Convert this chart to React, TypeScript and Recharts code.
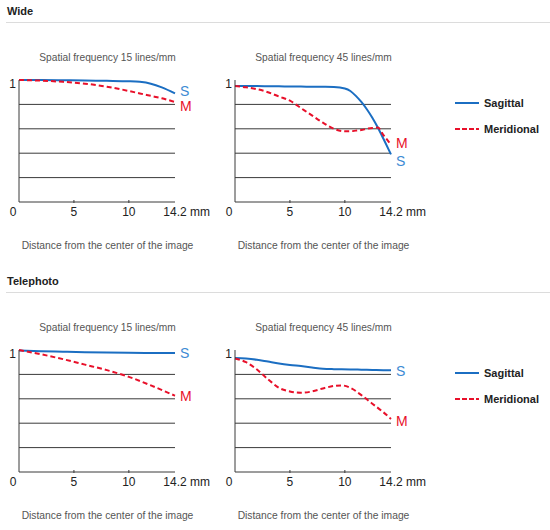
import { LineChart, Line, XAxis, YAxis, ReferenceLine } from 'recharts';

// distance from image centre (mm) and contrast values
const DIST_TICKS = [0, 5, 10, 14.2];
const GRID_LEVELS = [0.2, 0.4, 0.6, 0.8];
const TOP_TICK = [1];

const wide15Dist = [0, 2, 4, 6, 8, 10, 11, 12, 13, 14.2];
const wide15Sag = [1.0, 1.0, 0.998, 0.995, 0.993, 0.99, 0.985, 0.97, 0.94, 0.89];
const wide15Mer = [1.0, 0.995, 0.985, 0.97, 0.945, 0.91, 0.89, 0.87, 0.85, 0.82];

const wide45Dist = [0, 1, 2, 3, 4, 5, 6, 7, 8, 9, 10, 10.5, 11, 11.5, 12, 12.5, 13, 13.5, 14.2];
const wide45Sag = [0.95, 0.95, 0.95, 0.949, 0.948, 0.947, 0.946, 0.945, 0.944, 0.942, 0.93, 0.91, 0.87, 0.82, 0.76, 0.69, 0.61, 0.52, 0.39];
const wide45Mer = [0.95, 0.94, 0.925, 0.9, 0.865, 0.83, 0.77, 0.71, 0.65, 0.6, 0.58, 0.58, 0.585, 0.59, 0.6, 0.607, 0.61, 0.55, 0.47];

const tele15Dist = [0, 2, 4, 6, 8, 10, 12, 14.2];
const tele15Sag = [0.995, 0.99, 0.986, 0.982, 0.979, 0.977, 0.976, 0.975];
const tele15Mer = [1.0, 0.965, 0.925, 0.88, 0.835, 0.78, 0.71, 0.625];

const tele45Dist = [0, 1, 2, 3, 4, 5, 6, 7, 8, 9, 9.7, 10.5, 11.5, 12.5, 13.5, 14.2];
const tele45Sag = [0.935, 0.93, 0.92, 0.905, 0.89, 0.878, 0.868, 0.857, 0.846, 0.843, 0.842, 0.841, 0.839, 0.837, 0.835, 0.834];
const tele45Mer = [0.93, 0.9, 0.84, 0.76, 0.69, 0.66, 0.65, 0.66, 0.685, 0.705, 0.71, 0.69, 0.63, 0.56, 0.49, 0.435];

const SAG_COLOR = '#1b6ec2';
const SAG_TEXT = '#3d8bd4';
const MER_COLOR = '#e8102a';
const AXIS_COLOR = '#3a3a3a';
const FONT = 'Arial, "Liberation Sans", sans-serif';

function DistTick(props: any) {
  const { x, y, index, payload } = props;
  const last = index === DIST_TICKS.length - 1;
  const first = index === 0;
  return (
    <g>
      {!first && !last && <line x1={x} x2={x} y1={y - 2} y2={y + 1} stroke={AXIS_COLOR} />}
      <text x={first ? x - 6 : x} y={y + 14} textAnchor="middle" fontSize={12} fill="#222" fontFamily={FONT}>
        {payload.value}
      </text>
      {last && (
        <text x={x + 15} y={y + 14} textAnchor="start" fontSize={12} fill="#222" fontFamily={FONT}>
          mm
        </text>
      )}
    </g>
  );
}

function TopTick(props: any) {
  const { x, y, payload } = props;
  return (
    <text x={x - 6.5} y={y + 8} textAnchor="middle" fontSize={12} fill="#222" fontFamily={FONT}>
      {payload.value}
    </text>
  );
}

function endLabel(text: string, color: string, count: number, dy: number) {
  return (p: any) =>
    p.index === count - 1 ? (
      <text key={text} x={p.x + 5} y={p.y + dy} fontSize={14} fill={color} fontFamily={FONT}>
        {text}
      </text>
    ) : null;
}

interface MtfChartProps {
  title: string;
  dist: number[];
  sag: number[];
  mer: number[];
  left: number;
  top: number;
  sDy?: number;
  mDy?: number;
}

function MtfChart({ title, dist, sag, mer, left, top, sDy = 5, mDy = 5 }: MtfChartProps) {
  const rows = dist.map((d, i) => ({ d, s: sag[i], m: mer[i] }));
  const caption = {
    position: 'absolute' as const,
    left: 0,
    width: 215,
    textAlign: 'center' as const,
    fontSize: 10.2,
    lineHeight: '14px',
    color: '#555',
    fontFamily: FONT,
  };
  return (
    <div style={{ position: 'absolute', left, top, width: 215, height: 162 }}>
      <div style={{ ...caption, top: -19 }}>{title}</div>
      <LineChart width={215} height={162} data={rows} margin={{ top: 10, right: 40, bottom: 0, left: 0 }}>
        <XAxis
          dataKey="d"
          type="number"
          domain={[0, 14.2]}
          ticks={DIST_TICKS}
          interval={0}
          height={30}
          tickSize={0}
          tickMargin={0}
          tickLine={false}
          axisLine={{ stroke: AXIS_COLOR }}
          tick={DistTick}
        />
        <YAxis
          type="number"
          domain={[0, 1]}
          ticks={TOP_TICK}
          width={19}
          tickSize={0}
          tickMargin={0}
          tickLine={false}
          axisLine={{ stroke: AXIS_COLOR }}
          tick={TopTick}
        />
        {GRID_LEVELS.map((v) => (
          <ReferenceLine key={v} y={v} stroke={AXIS_COLOR} />
        ))}
        <Line
          type="monotone"
          dataKey="s"
          stroke={SAG_COLOR}
          strokeWidth={2}
          dot={false}
          isAnimationActive={false}
          label={endLabel('S', SAG_TEXT, rows.length, sDy)}
        />
        <Line
          type="monotone"
          dataKey="m"
          stroke={MER_COLOR}
          strokeWidth={2}
          strokeDasharray="5 3"
          dot={false}
          isAnimationActive={false}
          label={endLabel('M', MER_COLOR, rows.length, mDy)}
        />
      </LineChart>
      <div style={{ ...caption, top: 169, fontSize: 10.3 }}>Distance from the center of the image</div>
    </div>
  );
}

function Legend({ top }: { top: number }) {
  const item = (label: string, color: string, dashed: boolean, y: number) => (
    <div style={{ position: 'absolute', left: 455, top: top + y - 7, height: 14, display: 'flex', alignItems: 'center' }}>
      <svg width={24} height={4} style={{ display: 'block' }}>
        <line x1={0} x2={24} y1={2} y2={2} stroke={color} strokeWidth={2} strokeDasharray={dashed ? '5 2' : undefined} />
      </svg>
      <span style={{ marginLeft: 5, fontSize: 11, fontWeight: 'bold', color: '#222', fontFamily: FONT }}>{label}</span>
    </div>
  );
  return (
    <>
      {item('Sagittal', SAG_COLOR, false, 33)}
      {item('Meridional', MER_COLOR, true, 59)}
    </>
  );
}

function Section({ name, top }: { name: string; top: number }) {
  return (
    <>
      <div
        style={{
          position: 'absolute',
          left: 7,
          top: top + 4,
          fontSize: 11,
          lineHeight: '14px',
          fontWeight: 'bold',
          color: '#222',
          fontFamily: FONT,
        }}
      >
        {name}
      </div>
      <div style={{ position: 'absolute', left: 6, top: top + 22, width: 544, height: 1, background: '#dcdcdc' }} />
    </>
  );
}

export default function App() {
  return (
    <div style={{ position: 'absolute', left: 0, top: 0, width: 550, height: 530, background: '#fff', overflow: 'hidden' }}>
      <Section name="Wide" top={0} />
      <MtfChart title="Spatial frequency 15 lines/mm" dist={wide15Dist} sag={wide15Sag} mer={wide15Mer} left={0} top={70} sDy={2.5} mDy={9.5} />
      <MtfChart title="Spatial frequency 45 lines/mm" dist={wide45Dist} sag={wide45Sag} mer={wide45Mer} left={216} top={70} sDy={12} mDy={3} />
      <Legend top={70} />

      <Section name="Telephoto" top={270} />
      <MtfChart title="Spatial frequency 15 lines/mm" dist={tele15Dist} sag={tele15Sag} mer={tele15Mer} left={0} top={340} />
      <MtfChart title="Spatial frequency 45 lines/mm" dist={tele45Dist} sag={tele45Sag} mer={tele45Mer} left={216} top={340} sDy={5.7} mDy={6.7} />
      <Legend top={340} />
    </div>
  );
}
